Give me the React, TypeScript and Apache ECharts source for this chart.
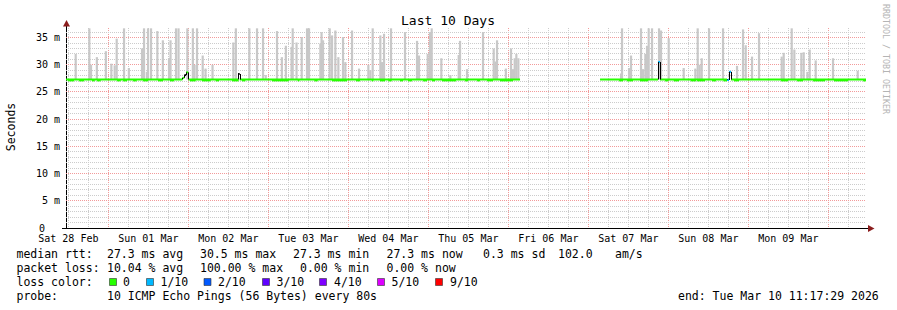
import React, { useEffect, useRef } from "react";
import * as echarts from "echarts";

// Hours are counted from Sat 28 Feb 00:00
const START_H = 11 + 17 / 60 + 29 / 3600;
const END_H = START_H + 240;
const Y_MAX = 36.76;
const SMOKE_BASE = 27.3;

const dayLabels = ["Sat 28 Feb", "Sun 01 Mar", "Mon 02 Mar", "Tue 03 Mar", "Wed 04 Mar", "Thu 05 Mar", "Fri 06 Mar", "Sat 07 Mar", "Sun 08 Mar", "Mon 09 Mar"];
const dayLabelHours = [12, 36, 60, 84, 108, 132, 156, 180, 204, 228];
const midnightHours = [24, 48, 72, 96, 120, 144, 168, 192, 216, 240];
const sixHourHours = [12, 18, 30, 36, 42, 54, 60, 66, 78, 84, 90, 102, 108, 114, 126, 132, 138, 150, 156, 162, 174, 180, 186, 198, 204, 210, 222, 228, 234, 246];
const yLabelValues = [0, 5, 10, 15, 20, 25, 30, 35];
const yMajorGrid = [5, 10, 15, 20, 25, 30, 35];
const yMinorGrid = [1, 2, 3, 4, 6, 7, 8, 9, 11, 12, 13, 14, 16, 17, 18, 19, 21, 22, 23, 24, 26, 27, 28, 29, 31, 32, 33, 34, 36];

// smoke spikes: [hour, top ms]
const smokeSpikes: number[][] = [
  [14.2, 32.0], [18.3, 36.7], [18.8, 30.0], [20.55, 31.4], [23.25, 32.5], [24.9, 30.2], [25.9, 29.9], [26.5, 34.8],
  [28.7, 36.7], [30.15, 29.4], [34.1, 33.0], [34.7, 36.7], [35.55, 28.7], [35.9, 36.7], [36.8, 36.7], [38.7, 36.2],
  [40.35, 34.5], [42.2, 31.25], [42.65, 34.5], [44.3, 36.7], [45.05, 36.7], [47.7, 36.7], [49.35, 36.7], [49.85, 30.0],
  [50.6, 36.7], [52.3, 31.7], [53.15, 29.3], [55.25, 30.0],
  [61.5, 34.1], [62.25, 36.7], [66.3, 36.7], [68.6, 36.7], [70.4, 36.7], [71.2, 28.1], [74.6, 36.2], [76.05, 31.4],
  [77.25, 33.5], [78.95, 33.3], [79.3, 36.7], [80.45, 34.1], [82.0, 35.1], [83.6, 36.7], [84.2, 36.7], [87.6, 33.9],
  [87.95, 36.0], [88.4, 34.5], [90.4, 36.7], [91.1, 35.4], [92.1, 36.3], [93.0, 31.4], [94.4, 35.1], [95.1, 30.5],
  [97.1, 36.3], [99.2, 29.3], [102.0, 30.0], [102.6, 29.0], [103.3, 36.7], [105.6, 35.4],
  [106.1, 30.5], [106.7, 35.7], [108.8, 36.7], [113.0, 36.0], [116.6, 34.4], [117.2, 31.7], [119.8, 32.0], [120.5, 36.0],
  [121.0, 36.7], [123.9, 31.2], [126.6, 28.1], [129.1, 31.8], [129.5, 34.4], [131.6, 29.2], [136.4, 36.0], [139.6, 33.0],
  [140.1, 30.6], [140.6, 34.5], [143.25, 29.3], [144.8, 33.0], [145.4, 29.2], [145.9, 31.2], [146.4, 32.0], [147.0, 31.2],
  [177.8, 28.4], [178.1, 36.7], [180.2, 29.4], [180.8, 31.7], [183.8, 36.7], [184.4, 29.2], [185.1, 32.0], [185.6, 33.5],
  [186.1, 36.7], [187.1, 36.7], [189.2, 36.7], [189.8, 36.3], [192.1, 34.9], [196.6, 29.4], [200.1, 29.3], [200.8, 36.7],
  [201.4, 30.0], [202.0, 31.2], [204.2, 36.7], [208.4, 36.7], [212.6, 29.8], [214.4, 36.5], [215.2, 33.6], [217.1, 31.5],
  [219.2, 35.8], [226.0, 31.5], [226.6, 32.2], [229.0, 36.7], [229.8, 32.8], [231.9, 32.2], [232.6, 32.3], [233.7, 28.7],
  [234.4, 32.8], [236.2, 30.8], [241.4, 31.2], [248.8, 28.9],
];

// median rtt steps: [hour, ms, loss level] (-1 = black, NaN = no data)
const medianSteps: number[][] = [
  [START_H, 27.3, 0], [46.2, 27.6, 0], [46.8, 28.1, -1], [47.3, 28.6, 0], [48.0, 27.3, 0],
  [62.9, 28.3, -1], [63.4, 27.3, 0],
  [147.5, NaN, 0],
  [171.5, 27.3, 0], [188.9, 30.5, 1], [189.5, 27.3, 0],
  [209.6, 27.2, 1], [210.2, 28.7, 1], [210.8, 27.3, 0],
];

// short stretches where the median sits slightly lower: [from hour, to hour]
const medianDips: number[][] = [
  [11.9, 13.7], [15.2, 16.7], [19.1, 19.9], [20.6, 21.7], [26.6, 27.7], [28.4, 29.6], [31.4, 32.5], [34.4, 35.9],
  [38.9, 40.4], [42.5, 43.7], [48.5, 50.2], [52.1, 54.7], [56.2, 57.2],
  [61.1, 63.1], [64.1, 65.1], [73.1, 78.1], [80.8, 81.3], [85.8, 86.8], [91.1, 95.6], [98.3, 99.5], [103.0, 103.5],
  [105.5, 107.0], [108.0, 109.0], [111.5, 112.4], [113.9, 115.1], [118.4, 119.6], [121.1, 122.0], [124.1, 128.3],
  [131.0, 131.9], [134.6, 135.5], [137.6, 139.4], [141.5, 145.4],
  [177.2, 178.4], [179.6, 181.4], [183.5, 185.9], [191.0, 192.0], [193.6, 195.2], [198.7, 200.3], [200.6, 203.0],
  [205.1, 206.3], [208.5, 209.6], [211.7, 213.2], [225.8, 227.9], [230.6, 232.4], [235.4, 239.0], [241.7, 245.9],
  [250.4, 251.29],
];

const lossColors: Record<string, string> = {
  "-1": "#000000", "0": "#26ff00", "1": "#00b8ff", "2": "#0059ff", "3": "#5e00ff", "4": "#7e00ff", "5": "#dd00ff", "9": "#ff0000",
};
const legendLossLabels = ["0", "1/10", "2/10", "3/10", "4/10", "5/10", "9/10"];
const legendLossKeys = ["0", "1", "2", "3", "4", "5", "9"];

const statsRtt = ["27.3 ms avg", "30.5 ms max", "27.3 ms min", "27.3 ms now", "0.3 ms sd", "102.0", "am/s"];
const statsLoss = ["10.04 % avg", "100.00 % max", "0.00 % min", "0.00 % now"];

const MONO = "DejaVu Sans Mono";
const SMOKE_HALF = 0.33;
const MINOR_COLOR = "#cccccc";
const MAJOR_COLOR = "#f29a9a";

export default function App() {
  const ref = useRef<HTMLDivElement>(null);
  useEffect(() => {
    document.body.style.margin = "0";
    const chart = echarts.init(ref.current!, null, { renderer: "svg" });

    const txt = (text: string, x: number, y: number, extra: any = {}) => ({
      type: "text", x, y, silent: true,
      style: { text, fill: "#000", fontFamily: MONO, fontSize: 11.5, verticalAlign: "middle", align: "left", ...extra },
    });

    const rttX = [107, 200, 293, 386.5, 483, 558, 615];
    const lossX = [107, 200, 300, 386.5];
    const sqX = [109, 146, 203.5, 262, 319, 377, 435];
    const lblX = [123, 160.5, 218, 276.5, 334, 391.5, 450];

    const graphics: any[] = [
      txt("Last 10 Days", 448, 20, { fontSize: 13, align: "center" }),
      { type: "text", x: 11, y: 127, rotation: Math.PI / 2, silent: true,
        style: { text: "Seconds", fill: "#000", fontFamily: MONO, fontSize: 11.5, align: "center", verticalAlign: "middle" } },
      { type: "text", x: 886, y: 59, rotation: -Math.PI / 2, silent: true,
        style: { text: "RRDTOOL / TOBI OETIKER", fill: "#b4b4b4", fontFamily: MONO, fontSize: 8.3, align: "center", verticalAlign: "middle" } },
      txt("median rtt:", 16.5, 254),
      txt("packet loss:", 16.5, 268),
      txt("loss color:", 16.5, 282),
      txt("probe:", 16.5, 296),
      txt("10 ICMP Echo Pings (56 Bytes) every 80s", 107, 296),
      txt("end: Tue Mar 10 11:17:29 2026", 678, 296),
      // axis extensions and arrows
      { type: "line", silent: true, shape: { x1: 66.5, y1: 22, x2: 66.5, y2: 28 }, style: { stroke: "#000", lineWidth: 1 } },
      { type: "line", silent: true, shape: { x1: 62, y1: 228.5, x2: 66, y2: 228.5 }, style: { stroke: "#000", lineWidth: 1 } },
      { type: "line", silent: true, shape: { x1: 866, y1: 228.5, x2: 870, y2: 228.5 }, style: { stroke: "#000", lineWidth: 1 } },
      { type: "polygon", silent: true, shape: { points: [[63, 26.5], [70, 26.5], [66.5, 20]] }, style: { fill: "#8b1d1d" } },
      { type: "polygon", silent: true, shape: { points: [[868, 225], [868, 232], [874.5, 228.5]] }, style: { fill: "#8b1d1d" } },
    ];
    statsRtt.forEach((s, i) => graphics.push(txt(s, rttX[i], 254)));
    statsLoss.forEach((s, i) => graphics.push(txt(s, lossX[i], 268)));
    legendLossKeys.forEach((k, i) => {
      graphics.push({ type: "rect", silent: true, shape: { x: sqX[i] + 0.5, y: 278.5, width: 7, height: 7 }, style: { fill: lossColors[k], stroke: "#333", lineWidth: 0.6 } });
      graphics.push(txt(legendLossLabels[i], lblX[i], 282));
    });

    // grid line data: [hour, isMajor] and [value, isMajor]
    const vGrid = [...sixHourHours.map((h) => [h, 0]), ...midnightHours.map((h) => [h, 1])];
    const hGrid = [...yMinorGrid.map((v) => [START_H, v, 0]), ...yMajorGrid.map((v) => [START_H, v, 1])];

    chart.setOption({
      animation: false,
      backgroundColor: "#ffffff",
      grid: { left: 66, right: 31, top: 28, bottom: 82, containLabel: false },
      xAxis: {
        type: "value", min: START_H, max: END_H,
        axisLine: { show: true, lineStyle: { color: "#000", width: 1 } },
        axisTick: { show: false },
        splitLine: { show: false },
        axisLabel: {
          customValues: dayLabelHours, margin: 5, color: "#000", fontFamily: MONO, fontSize: 10, lineHeight: 10,
          formatter: (v: number) => dayLabels[dayLabelHours.indexOf(Math.round(v))] ?? "",
        },
      },
      yAxis: {
        type: "value", min: 0, max: Y_MAX,
        axisLine: { show: true, lineStyle: { color: "#000", width: 1 } },
        axisTick: { show: false },
        splitLine: { show: false },
        axisLabel: {
          customValues: yLabelValues, margin: 6, color: "#000", fontFamily: MONO, fontSize: 10, lineHeight: 10,
          formatter: (v: number) => (v === 0 ? "{z|0}" : `${v} m`),
          rich: { z: { padding: [0, 15, 0, 0], fontFamily: MONO, fontSize: 10, lineHeight: 9, color: "#000" } },
        },
      },
      series: [
        {
          type: "custom", z: 1, clip: true, silent: true, data: vGrid, encode: { x: 0 },
          renderItem: (params: any, api: any) => {
            const h = api.value(0), major = api.value(1);
            const t = api.coord([h, Y_MAX]);
            const b = api.coord([h, 0]);
            const x = Math.floor(t[0]) + 0.5;
            return { type: "line", shape: { x1: x, y1: t[1], x2: x, y2: b[1] },
              style: { stroke: major ? MAJOR_COLOR : MINOR_COLOR, lineWidth: 1, lineDash: [1, 1] } };
          },
        },
        {
          type: "custom", z: 1, clip: true, silent: true, data: hGrid, encode: { x: 0, y: 1 },
          renderItem: (params: any, api: any) => {
            const v = api.value(1), major = api.value(2);
            const l = api.coord([START_H, v]);
            const r = api.coord([END_H, v]);
            const y = Math.floor(l[1]) + 0.5;
            return { type: "line", shape: { x1: l[0], y1: y, x2: r[0], y2: y },
              style: { stroke: major ? MAJOR_COLOR : MINOR_COLOR, lineWidth: 1, lineDash: [1, 1] } };
          },
        },
        {
          type: "custom", z: 2, clip: true, silent: true, data: smokeSpikes, encode: { x: 0, y: 1 },
          renderItem: (params: any, api: any) => {
            const h = api.value(0), top = api.value(1);
            const p1 = api.coord([h - SMOKE_HALF, top]);
            const p2 = api.coord([h + SMOKE_HALF, SMOKE_BASE]);
            return { type: "rect", shape: { x: p1[0], y: p1[1], width: p2[0] - p1[0], height: p2[1] - p1[1] }, style: { fill: "#c8c8c8" } };
          },
        },
        {
          type: "custom", z: 3, clip: true, silent: true, data: medianDips, encode: { x: [0, 1] },
          renderItem: (params: any, api: any) => {
            const a = api.coord([api.value(0), 27.3]);
            const b = api.coord([api.value(1), 26.95]);
            return { type: "rect", shape: { x: a[0], y: a[1], width: b[0] - a[0], height: b[1] - a[1] }, style: { fill: lossColors["0"] } };
          },
        },
        {
          type: "custom", z: 4, clip: true, silent: true,
          data: medianSteps.map((s, i) => [s[0], isNaN(s[1]) ? 0 : s[1], s[2], i]),
          encode: { x: 0, y: 1 },
          renderItem: (params: any, api: any) => {
            const i = api.value(3);
            const [h, v, loss] = medianSteps[i];
            if (isNaN(v)) return { type: "group", children: [] };
            const next = i + 1 < medianSteps.length ? medianSteps[i + 1][0] : END_H;
            const a = api.coord([h, v]);
            const b = api.coord([next, v]);
            const children: any[] = [
              { type: "rect", shape: { x: a[0], y: a[1] - 1, width: b[0] - a[0], height: 2 }, style: { fill: lossColors[String(loss)] } },
            ];
            if (i > 0) {
              const pv = medianSteps[i - 1][1];
              if (!isNaN(pv) && pv !== v) {
                const c = api.coord([h, pv]);
                const x = Math.round(a[0]) + 0.5;
                children.push({ type: "line", shape: { x1: x, y1: c[1], x2: x, y2: a[1] }, style: { stroke: "#000", lineWidth: 1 } });
              }
            }
            return { type: "group", children };
          },
        },
      ],
      graphic: graphics,
    });
    return () => chart.dispose();
  }, []);
  return <div ref={ref} style={{ position: "fixed", left: 0, top: 0, width: 897, height: 310, background: "#fff" }} />;
}
